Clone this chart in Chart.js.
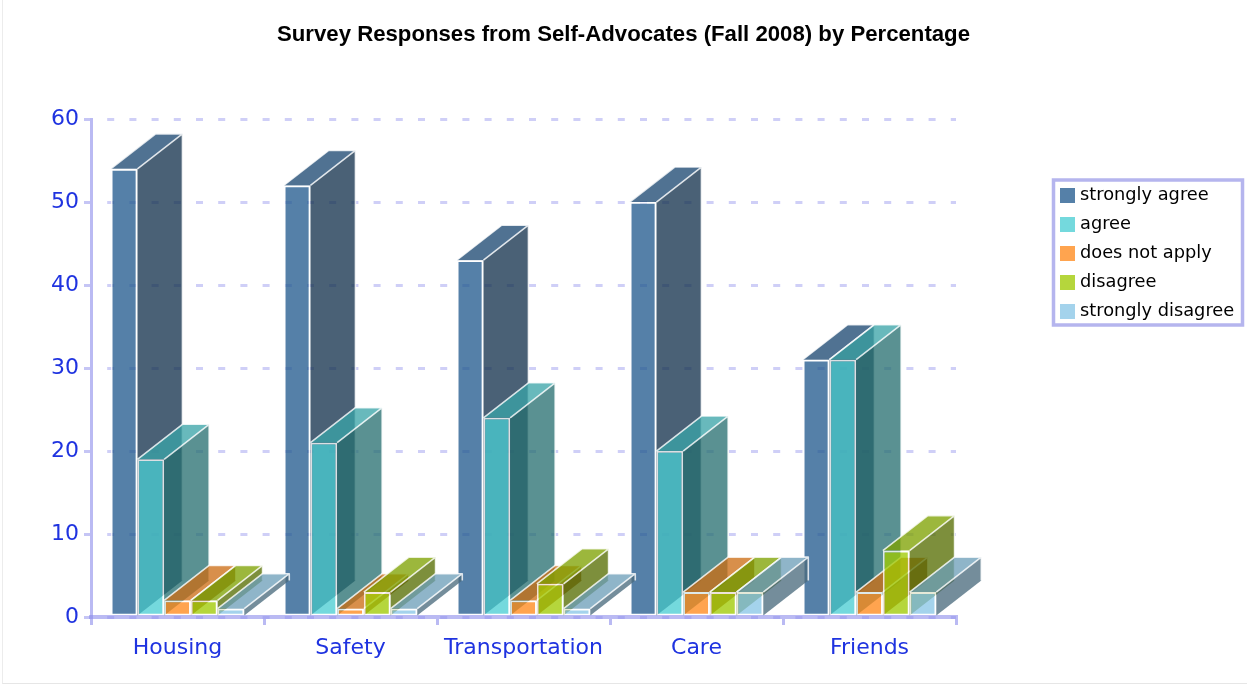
<!DOCTYPE html>
<html><head><meta charset="utf-8">
<script src="https://cdn.jsdelivr.net/npm/chart.js@4"></script>
<style>html,body{margin:0;padding:0;background:#fff;overflow:hidden}
#wrap{position:absolute;left:0;top:0;width:1247px;height:685px}
#frame{position:absolute;left:2px;top:0;width:1245px;height:684px;border-left:1px solid #ececec;border-bottom:1px solid #e6e6e6;box-sizing:border-box;pointer-events:none}
</style></head><body>
<div id="wrap"><canvas id="c" width="1247" height="685"></canvas><div id="frame"></div></div>
<script>
const categories = ["Housing","Safety","Transportation","Care","Friends"];
const stronglyAgree = [54,52,43,50,31];
const agree = [19,21,24,20,31];
const doesNotApply = [2,1,2,3,3];
const disagree = [2,3,4,3,8];
const stronglyDisagree = [1,1,1,3,3];
const yTicks = [0,10,20,30,40,50,60];
const titleText = "Survey Responses from Self-Advocates (Fall 2008) by Percentage";

const ALPHA = 0.765;
const rgba = (c,k=1)=>`rgba(${Math.round(c[0]*k)},${Math.round(c[1]*k)},${Math.round(c[2]*k)},${ALPHA})`;
const series = [
  {label:"strongly agree", data:stronglyAgree, base:[33,89,141]},
  {label:"agree", data:agree, base:[73,205,210]},
  {label:"does not apply", data:doesNotApply, base:[255,136,25]},
  {label:"disagree", data:disagree, base:[158,201,0]},
  {label:"strongly disagree", data:stronglyDisagree, base:[136,197,230]},
];
const DX=45, DY=-35;
const EDGE='rgba(255,255,255,0.8)';
const AXIS='rgba(140,140,235,0.6)';
const BLUE='#1f33e0';
const FONT='"DejaVu Sans", sans-serif';

function swatch(color){
  const cv=document.createElement('canvas');cv.width=15;cv.height=15;
  const g=cv.getContext('2d');g.fillStyle=color;g.fillRect(0,0,15,15);
  return cv;
}
const depth3d = {
  id:'depth3d',
  beforeDatasetsDraw(chart){
    const ctx=chart.ctx;
    chart.getSortedVisibleDatasetMetas().forEach(meta=>{
      const ds=chart.data.datasets[meta.index];
      ctx.save();
      ctx.lineWidth=1.6; ctx.strokeStyle=EDGE; ctx.lineJoin='round';
      meta.data.forEach(bar=>{
        const p=bar.getProps(['x','y','base','width'],true);
        const l=p.x-p.width/2, r=p.x+p.width/2, t=p.y, b=p.base;
        ctx.beginPath();ctx.moveTo(r,t);ctx.lineTo(r+DX,t+DY);ctx.lineTo(r+DX,b+DY);ctx.lineTo(r,b);ctx.closePath();
        ctx.fillStyle=ds.sideColor;ctx.fill();
        ctx.beginPath();ctx.moveTo(l,t);ctx.lineTo(r,t);ctx.lineTo(r+DX,t+DY);ctx.lineTo(l+DX,t+DY);ctx.closePath();
        ctx.fillStyle=ds.topColor;ctx.fill();
        ctx.beginPath();ctx.moveTo(l,t);ctx.lineTo(l+DX,t+DY);ctx.lineTo(r+DX,t+DY);ctx.lineTo(r,t);
        ctx.moveTo(r+DX,t+DY);ctx.lineTo(r+DX,b+DY);ctx.stroke();
      });
      ctx.restore();
      meta.controller.draw();
    });
    return false;
  }
};
const placement = {
  id:'placement',
  afterLayout(chart){
    const l=chart.legend, w=l.width, h=l.height;
    l.left=1052.7; l.right=l.left+w; l.top=175.4; l.bottom=l.top+h;
    const t=chart.titleBlock; t.left=0; t.right=chart.width;
  },
  beforeDraw(chart){
    const ctx=chart.ctx;
    ctx.save();
    ctx.fillStyle='#fff';ctx.fillRect(0,0,chart.width,chart.height);
    ctx.strokeStyle='#b5b5ee';ctx.lineWidth=3.5;
    ctx.strokeRect(1053.5,180,189,145);
    ctx.restore();
  }
};
new Chart(document.getElementById('c'),{
  type:'bar',
  data:{labels:categories,datasets:series.map(s=>({
    label:s.label,data:s.data,
    backgroundColor:rgba(s.base),
    sideColor:rgba(s.base,0.54),
    topColor:rgba(s.base,0.8),
    borderColor:EDGE,borderWidth:1.8,borderSkipped:false,
    barPercentage:1,categoryPercentage:0.772,
  }))},
  options:{
    responsive:false,animation:false,
    layout:{padding:{left:0,right:291,top:0,bottom:0}},
    plugins:{
      title:{display:true,text:titleText,color:'#000',
        font:{family:'"Liberation Sans", Arial, sans-serif',size:22.2,weight:'bold',lineHeight:1.2},
        padding:{top:22,bottom:70.4}},
      legend:{position:'chartArea',align:'start',
        labels:{font:{family:FONT,size:17.8},color:'#000',usePointStyle:true,pointStyleWidth:7.2,boxHeight:15,padding:11.2,
          generateLabels(chart){
            return chart.data.datasets.map((d,i)=>({text:d.label,fillStyle:d.backgroundColor,strokeStyle:'rgba(0,0,0,0)',lineWidth:0,datasetIndex:i,pointStyle:swatch(d.backgroundColor)}));
          }}},
      tooltip:{enabled:false}
    },
    scales:{
      x:{
        afterFit(s){s.height=68;},
        grid:{drawOnChartArea:false,drawTicks:true,tickLength:8,color:AXIS,lineWidth:3,tickWidth:3},
        border:{color:AXIS,width:4,z:1},
        ticks:{color:BLUE,font:{family:FONT,size:22},padding:10,maxRotation:0,autoSkip:false}
      },
      y:{
        min:0,max:60,
        afterFit(s){s.width=91;},
        afterBuildTicks(s){s.ticks=yTicks.map(v=>({value:v}));},
        grid:{color:'rgba(140,140,235,0.42)',lineWidth:3,tickLength:7,tickWidth:3,tickBorderDash:[],tickColor:'rgba(140,140,235,0.5)'},
        border:{color:AXIS,width:3,dash:[7,15.2],dashOffset:8},
        ticks:{color:BLUE,font:{family:FONT,size:22},padding:5},
      }
    }
  },
  plugins:[depth3d,placement]
});
</script>
</body></html>
